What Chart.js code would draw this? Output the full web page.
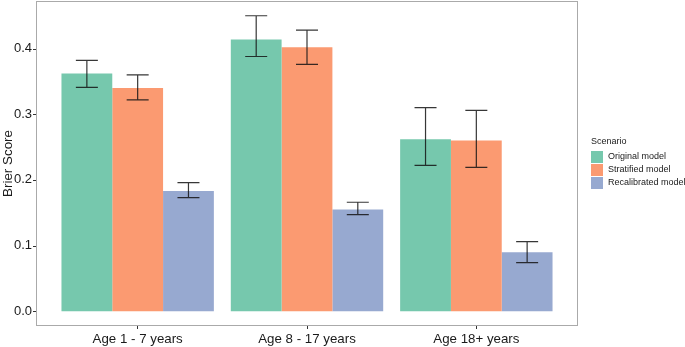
<!DOCTYPE html>
<html>
<head>
<meta charset="utf-8">
<script src="https://cdn.jsdelivr.net/npm/chart.js@4.4.0/dist/chart.umd.min.js"></script>
<style>
  html, body { margin: 0; padding: 0; background: #fff; }
  canvas { display: block; }
</style>
</head>
<body>
<canvas id="brierChart" width="685" height="347"></canvas>
<script>
document.addEventListener("DOMContentLoaded", function() {
  const categories = ['Age 1 - 7 years', 'Age 8 - 17 years', 'Age 18+ years'];
  const seriesNames = ['Original model', 'Stratified model', 'Recalibrated model'];

  const original = [0.362, 0.414, 0.262];
  const stratified = [0.340, 0.402, 0.260];
  const recalibrated = [0.183, 0.155, 0.090];

  const originalLow = [0.341, 0.388, 0.222];
  const originalHigh = [0.382, 0.450, 0.310];
  const stratifiedLow = [0.322, 0.376, 0.219];
  const stratifiedHigh = [0.360, 0.428, 0.306];
  const recalibratedLow = [0.173, 0.147, 0.074];
  const recalibratedHigh = [0.196, 0.166, 0.106];

  const yTicks = [0.0, 0.1, 0.2, 0.3, 0.4];

  const colors = ['#76c8ad', '#fb9a71', '#97a9d0'];
  const font = "'Liberation Sans', Arial, Helvetica, sans-serif";

  // panel edges (ggplot adds 0.6 of a category outside the outer bars)
  const panelLeft = 36;
  const panelRight = 578;
  const extra = 17;

  const errorBars = {
    id: 'errorBars',
    afterDatasetsDraw(chart) {
      const ctx = chart.ctx;
      const y = chart.scales.y;
      chart.data.datasets.forEach(function(ds, i) {
        const meta = chart.getDatasetMeta(i);
        meta.data.forEach(function(bar, j) {
          const top = y.getPixelForValue(ds.high[j]);
          const bottom = y.getPixelForValue(ds.low[j]);
          const half = 11;
          ctx.save();
          ctx.strokeStyle = 'rgba(20,20,20,0.85)';
          ctx.lineWidth = 1.2;
          ctx.beginPath();
          ctx.moveTo(bar.x, top);
          ctx.lineTo(bar.x, bottom);
          ctx.moveTo(bar.x - half, top);
          ctx.lineTo(bar.x + half, top);
          ctx.moveTo(bar.x - half, bottom);
          ctx.lineTo(bar.x + half, bottom);
          ctx.stroke();
          ctx.restore();
        });
      });
    }
  };

  const panelAndLegend = {
    id: 'panelAndLegend',
    afterDraw(chart) {
      const ctx = chart.ctx;
      const a = chart.chartArea;
      const y = chart.scales.y;
      ctx.save();
      ctx.strokeStyle = '#aaaaaa';
      ctx.lineWidth = 1;
      ctx.strokeRect(panelLeft + 0.5, a.top + 0.5, panelRight - panelLeft - 1, a.bottom - a.top - 1);

      // y tick marks on the panel edge
      ctx.strokeStyle = '#333';
      ctx.beginPath();
      yTicks.forEach(function(v) {
        const py = Math.round(y.getPixelForValue(v)) + 0.5;
        ctx.moveTo(panelLeft - 3, py);
        ctx.lineTo(panelLeft, py);
      });
      ctx.stroke();

      ctx.fillStyle = '#1a1a1a';
      ctx.textBaseline = 'middle';
      ctx.textAlign = 'left';
      ctx.font = '9px ' + font;
      ctx.fillText('Scenario', 591, 142);
      seriesNames.forEach(function(name, i) {
        const cy = 157 + i * 13;
        ctx.fillStyle = colors[i];
        ctx.fillRect(591, cy - 6, 12, 12);
        ctx.fillStyle = '#1a1a1a';
        ctx.font = '9px ' + font;
        ctx.fillText(name, 608, cy);
      });
      ctx.restore();
    }
  };

  const ctxBrier = document.getElementById('brierChart').getContext('2d');

  new Chart(ctxBrier, {
    type: 'bar',
    data: {
      labels: categories,
      datasets: [{
        label: seriesNames[0],
        data: original,
        low: originalLow,
        high: originalHigh,
        backgroundColor: colors[0]
      }, {
        label: seriesNames[1],
        data: stratified,
        low: stratifiedLow,
        high: stratifiedHigh,
        backgroundColor: colors[1]
      }, {
        label: seriesNames[2],
        data: recalibrated,
        low: recalibratedLow,
        high: recalibratedHigh,
        backgroundColor: colors[2]
      }]
    },
    options: {
      responsive: false,
      animation: false,
      devicePixelRatio: 1,
      categoryPercentage: 0.9,
      barPercentage: 1.0,
      layout: { padding: { top: 1, right: 685 - panelRight + extra, left: 0, bottom: 0 } },
      plugins: {
        legend: { display: false },
        tooltip: { enabled: false }
      },
      scales: {
        x: {
          grid: { drawOnChartArea: false, offset: false, tickLength: 3, color: '#333' },
          border: { display: false },
          ticks: { color: '#1a1a1a', font: { family: font, size: 13.3 }, padding: 2 },
          afterFit(scale) {
            scale.height = 21;
            scale.paddingLeft = 0;
            scale.paddingRight = 0;
          }
        },
        y: {
          min: -0.0225,
          max: 0.4725,
          grid: { display: false, drawTicks: false },
          border: { display: false },
          afterBuildTicks(scale) {
            scale.ticks = yTicks.map(function(v) { return { value: v }; });
          },
          ticks: {
            color: '#1a1a1a',
            font: { family: font, size: 13 },
            padding: extra + 4,
            callback: function(v) { return Number(v).toFixed(1); }
          },
          title: {
            display: true,
            text: 'Brier Score',
            color: '#1a1a1a',
            font: { family: font, size: 13.4 },
            padding: 0
          },
          afterFit(scale) {
            scale.width = panelLeft + extra;
            scale.paddingTop = 0;
            scale.paddingBottom = 0;
          }
        }
      }
    },
    plugins: [errorBars, panelAndLegend]
  });
});
</script>
</body>
</html>
